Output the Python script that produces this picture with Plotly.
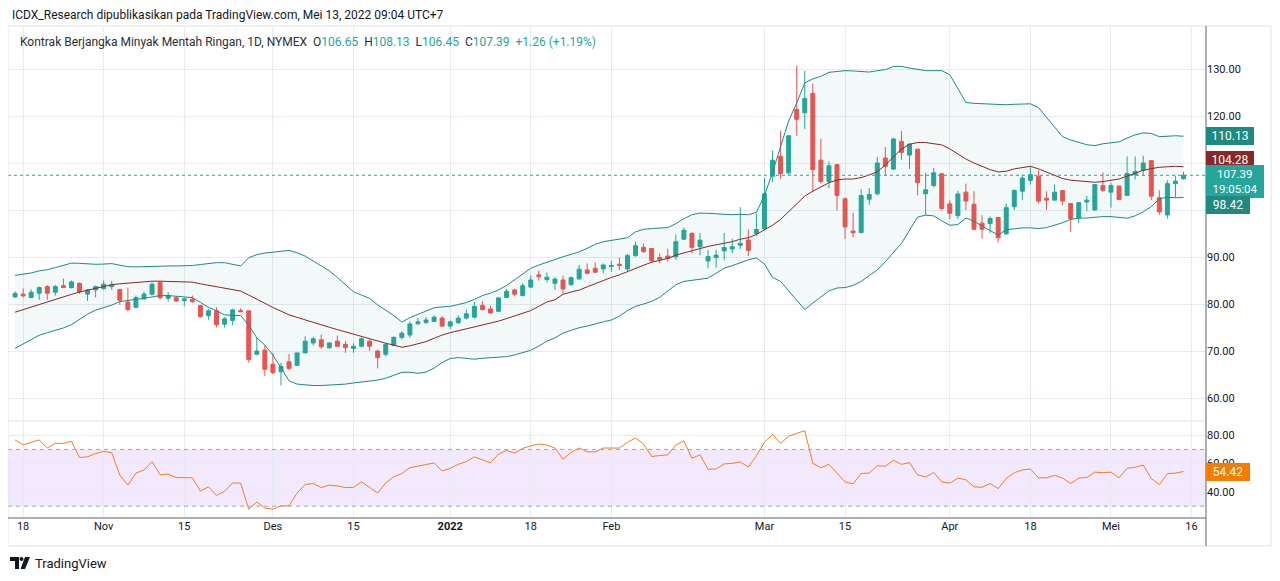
import pandas as pd
import plotly.graph_objects as go

# ---- data (CL1!, daily, 15 Oct 2021 .. 13 May 2022) ----
holidays = ["2021-11-25", "2021-12-24", "2022-01-17", "2022-02-21", "2022-04-15"]
dates = [d for d in pd.bdate_range("2021-10-15", "2022-05-13").strftime("%Y-%m-%d")
         if d not in holidays]

opens = [
    81.5, 82.1, 81.4, 82.3, 83.7, 82.5, 83.9, 83.5, 84.4, 82.1,
    83.0, 83.3, 83.7, 83.1, 80.4, 79.3, 81.1, 82.1, 84.6, 81.2,
    81.35, 80.7, 81.0, 79.7, 77.5, 78.55, 75.7, 76.5, 78.6, 78.55,
    69.3, 70.2, 67.2, 65.6, 67.7, 66.95, 69.6, 71.7, 72.4, 70.7,
    72.1, 71.4, 70.55, 71.0, 72.1, 70.0, 69.3, 71.2, 72.9, 73.4,
    75.8, 76.05, 76.3, 77.0, 75.3, 76.0, 77.0, 77.2, 79.7, 78.95,
    78.45, 81.4, 83.0, 81.8, 83.6, 86.2, 85.2, 84.4, 85.1, 84.1,
    85.35, 87.25, 87.6, 87.45, 88.0, 88.45, 87.45, 90.3, 92.05, 91.8,
    89.9, 90.2, 90.05, 93.8, 95.0, 92.2, 89.15, 89.9, 91.3, 91.7,
    92.5, 93.6, 95.0, 96.05, 107.2, 111.4, 107.9, 121.4, 120.7, 124.8,
    110.6, 106.05, 109.65, 102.4, 95.5, 95.2, 102.3, 103.45, 111.05, 108.7,
    114.6, 111.7, 112.95, 103.45, 105.2, 107.7, 101.3, 98.8, 103.8, 101.2,
    97.2, 97.1, 98.4, 94.9, 100.7, 104.0, 106.3, 107.2, 102.5, 102.1,
    104.15, 101.4, 98.4, 101.7, 100.0, 105.2, 103.8, 105.1, 103.1, 107.5,
    108.45, 110.5, 102.6, 98.95, 105.6, 106.65,
]
highs = [
    82.7, 83.3, 83.1, 83.7, 84.0, 84.0, 85.4, 85.0, 84.6, 83.2,
    83.9, 85.0, 84.9, 83.1, 83.5, 81.8, 82.6, 84.6, 84.9, 82.5,
    81.6, 81.4, 81.8, 79.8, 79.0, 79.3, 77.2, 79.0, 79.1, 78.55,
    72.8, 71.2, 69.6, 67.5, 69.4, 69.6, 73.1, 73.0, 73.5, 71.9,
    73.3, 72.1, 71.6, 72.9, 72.4, 70.3, 71.65, 73.1, 74.2, 76.3,
    77.0, 77.2, 77.6, 77.4, 76.5, 77.6, 78.8, 80.4, 80.6, 79.65,
    81.5, 83.2, 83.2, 84.4, 86.1, 87.1, 86.7, 85.7, 86.05, 85.85,
    88.3, 88.65, 88.8, 88.65, 89.2, 89.85, 90.65, 93.25, 92.9, 91.8,
    90.8, 91.8, 94.8, 96.2, 95.35, 95.1, 91.5, 91.5, 95.1, 93.9,
    100.6, 95.85, 99.2, 106.8, 112.6, 116.8, 115.9, 130.7, 129.6, 126.9,
    115.1, 110.35, 109.8, 102.6, 99.4, 104.4, 104.65, 111.3, 113.4, 115.4,
    116.8, 114.2, 112.95, 107.9, 108.95, 107.9, 102.05, 104.1, 105.6, 104.0,
    98.9, 98.6, 98.4, 101.4, 104.4, 107.5, 109.15, 108.45, 104.0, 105.4,
    104.15, 101.4, 101.7, 103.0, 105.5, 108.0, 105.8, 105.1, 111.4, 111.4,
    111.55, 110.5, 104.2, 106.3, 107.3, 108.13,
]
lows = [
    81.3, 81.35, 81.2, 80.9, 80.9, 81.8, 83.5, 83.3, 82.2, 80.65,
    81.4, 83.0, 83.0, 79.8, 78.4, 79.1, 80.9, 81.8, 80.9, 80.5,
    80.5, 79.5, 80.3, 77.1, 76.65, 75.0, 75.0, 75.45, 78.3, 67.5,
    69.1, 64.7, 65.05, 62.7, 65.9, 66.8, 69.6, 71.2, 70.5, 70.5,
    70.9, 69.6, 69.6, 70.95, 70.0, 66.3, 68.9, 71.0, 72.4, 72.8,
    75.6, 75.8, 76.2, 75.1, 74.7, 75.8, 76.7, 76.9, 78.65, 77.95,
    78.3, 81.3, 81.6, 81.6, 83.4, 85.0, 84.6, 83.0, 82.2, 83.95,
    85.15, 86.35, 86.55, 86.55, 86.8, 87.25, 87.0, 90.05, 90.9, 88.9,
    88.7, 89.0, 89.4, 93.6, 90.8, 90.4, 87.6, 87.75, 89.35, 90.8,
    91.7, 90.2, 94.5, 95.7, 105.9, 106.6, 107.5, 115.8, 117.2, 103.9,
    105.6, 104.65, 99.9, 93.8, 94.2, 95.1, 101.1, 103.1, 107.3, 108.5,
    110.7, 108.7, 103.1, 98.9, 104.85, 99.9, 98.05, 98.1, 100.0, 95.8,
    93.9, 95.1, 93.1, 94.9, 100.0, 102.1, 105.4, 101.4, 100.0, 102.1,
    101.0, 95.35, 97.2, 99.8, 99.8, 103.8, 100.5, 102.25, 103.1, 106.5,
    107.3, 102.1, 98.95, 98.2, 102.6, 106.45,
]
closes = [
    82.25, 81.75, 82.5, 83.5, 82.3, 83.7, 83.5, 84.7, 82.6, 83.0,
    83.7, 84.2, 84.1, 80.8, 78.8, 81.35, 82.1, 84.2, 81.35, 81.8,
    80.65, 81.1, 80.5, 77.35, 78.55, 75.6, 76.85, 78.75, 78.35, 68.2,
    70.0, 66.1, 65.4, 66.7, 66.3, 69.6, 72.1, 72.6, 70.9, 71.7,
    71.0, 70.7, 71.0, 72.6, 71.0, 68.6, 71.4, 72.9, 73.8, 75.75,
    76.2, 76.6, 77.2, 75.3, 76.2, 77.0, 77.9, 79.5, 78.8, 78.1,
    81.3, 82.7, 82.1, 83.9, 85.1, 85.8, 85.7, 85.3, 83.2, 85.6,
    87.4, 86.55, 86.75, 88.3, 88.2, 88.2, 90.3, 92.4, 91.15, 89.2,
    89.5, 89.7, 93.25, 95.7, 92.05, 93.6, 90.1, 90.4, 92.0, 92.2,
    92.9, 91.4, 95.85, 103.45, 110.6, 107.7, 115.8, 119.3, 123.7, 108.6,
    106.05, 109.4, 103.1, 96.4, 95.15, 103.1, 103.3, 110.0, 109.3, 115.1,
    112.25, 114.0, 105.8, 104.3, 107.9, 100.3, 99.3, 103.4, 101.9, 95.9,
    95.9, 98.2, 94.1, 100.5, 104.15, 106.8, 107.5, 101.9, 102.1, 103.8,
    101.9, 98.2, 101.55, 102.1, 105.4, 104.2, 105.2, 102.25, 107.75, 108.2,
    110.0, 102.95, 99.6, 105.6, 106.13, 107.39,
]

# Bollinger Bands (20, 2) - drawn on their own scale in the original
bb_upper = [
    83.49, 83.72, 83.94, 84.35, 84.57, 84.98, 85.43, 85.83, 85.79, 85.65,
    85.61, 85.65, 85.74, 85.43, 85.16, 85.11, 85.16, 85.29, 85.2, 85.29,
    85.29, 85.29, 85.38, 85.56, 85.74, 85.92, 85.92, 85.61, 85.29, 86.87,
    87.45, 87.77, 87.95, 88.08, 88.26, 87.81, 87.18, 86.24, 85.29, 84.35,
    83.08, 81.69, 80.34, 79.71, 79.08, 77.82, 76.88, 75.8, 74.54, 75.39,
    76.02, 76.65, 77.28, 77.46, 77.55, 77.91, 78.27, 78.9, 79.62, 80.07,
    80.7, 81.56, 82.64, 83.72, 84.84, 85.47, 86.01, 86.64, 87.05, 87.5,
    87.99, 88.67, 89.43, 89.93, 90.15, 90.38, 90.69, 91.82, 92.31, 92.45,
    92.58, 92.63, 93.39, 94.34, 95.1, 95.42, 95.37, 95.24, 95.19, 95.1,
    95.19, 95.1, 95.55, 98.79, 103.2, 108.33, 113.06, 116.52, 120.35, 121.11,
    121.61, 122.37, 122.55, 122.69, 122.64, 122.55, 122.42, 122.69, 122.87, 123.5,
    123.5, 123.18, 122.87, 122.69, 122.69, 122.69, 121.92, 119.4, 116.61, 116.43,
    116.34, 116.25, 116.16, 116.16, 116.25, 116.34, 116.34, 115.62, 113.82, 111.84,
    110.04, 109.41, 108.96, 108.51, 108.33, 108.69, 108.87, 109.05, 109.77, 110.4,
    110.76, 110.67, 110.04, 110.13, 110.22, 110.13,
]
bb_basis = [
    76.43, 76.92, 77.46, 77.96, 78.45, 78.99, 79.4, 79.85, 80.3, 80.66,
    81.06, 81.38, 81.69, 81.87, 82.01, 82.14, 82.28, 82.37, 82.37, 82.32,
    82.32, 82.28, 82.19, 81.87, 81.6, 81.24, 80.97, 80.66, 80.48, 79.71,
    78.99, 78.14, 77.33, 76.56, 75.93, 75.44, 74.94, 74.4, 73.95, 73.55,
    73.1, 72.65, 72.15, 71.7, 71.25, 70.89, 70.49, 70.13, 69.72, 69.99,
    70.4, 70.8, 71.43, 72.06, 72.51, 72.87, 73.19, 73.59, 73.95, 74.22,
    74.72, 75.21, 75.75, 76.29, 76.74, 77.55, 78.41, 78.81, 79.85, 80.3,
    80.66, 81.29, 81.92, 82.46, 83.09, 83.58, 84.21, 84.93, 85.43, 86.01,
    86.37, 86.73, 87.36, 87.81, 88.22, 88.71, 89.03, 89.34, 89.66, 89.93,
    90.42, 90.69, 91.32, 92.18, 93.08, 94.2, 95.64, 97.22, 98.66, 99.6,
    100.37, 101.22, 101.76, 101.94, 101.94, 102.21, 102.71, 103.34, 104.64, 106.08,
    107.66, 108.6, 108.92, 108.92, 108.74, 108.47, 107.7, 106.76, 105.77, 105.0,
    104.37, 103.74, 103.29, 103.43, 103.88, 104.06, 104.37, 103.88, 103.25, 102.66,
    102.03, 101.72, 101.54, 101.45, 101.31, 101.45, 101.72, 101.94, 102.48, 103.11,
    103.61, 103.92, 104.19, 104.28, 104.37, 104.28,
]
bb_lower = [
    69.5, 70.35, 71.25, 72.02, 72.51, 72.96, 73.41, 74.04, 75.03, 76.07,
    76.83, 77.33, 77.78, 78.45, 78.72, 78.9, 79.08, 79.4, 79.62, 79.62,
    79.53, 79.4, 79.22, 78.32, 77.37, 76.7, 75.93, 75.8, 75.8, 73.91,
    71.52, 70.13, 68.19, 65.81, 63.29, 62.66, 62.48, 62.39, 62.39, 62.48,
    62.52, 62.66, 62.88, 63.02, 63.15, 63.42, 63.78, 64.41, 64.91, 64.95,
    64.73, 64.95, 65.72, 66.8, 67.56, 67.74, 67.61, 67.43, 67.61, 67.74,
    67.79, 67.92, 68.24, 68.64, 69.14, 69.95, 70.89, 71.52, 72.42, 72.96,
    73.46, 73.77, 74.22, 74.58, 74.94, 75.66, 76.74, 77.55, 78.0, 78.5,
    79.26, 80.43, 81.69, 82.32, 82.5, 82.64, 82.95, 83.9, 84.84, 85.34,
    85.92, 86.46, 86.82, 85.65, 83.09, 82.32, 80.52, 78.72, 76.92, 78.18,
    79.44, 80.52, 81.06, 81.15, 81.56, 82.32, 83.45, 84.53, 86.1, 87.9,
    89.61, 92.13, 94.65, 95.01, 94.88, 93.93, 93.08, 93.21, 94.47, 93.84,
    92.94, 91.99, 91.19, 92.22, 92.45, 92.58, 92.58, 92.45, 92.63, 93.08,
    93.57, 94.2, 94.43, 94.47, 94.61, 94.74, 94.74, 94.61, 94.43, 94.88,
    95.64, 96.63, 98.16, 98.43, 98.34, 98.42,
]

# RSI (14)
rsi = [
    76.7, 73.3, 75.0, 76.7, 71.0, 74.3, 74.3, 75.7, 64.3, 64.8,
    67.1, 68.6, 67.6, 51.9, 44.8, 53.3, 55.5, 61.4, 52.1, 52.6,
    50.2, 50.2, 50.0, 40.7, 43.6, 37.6, 40.5, 46.4, 46.2, 27.9,
    32.9, 28.6, 27.9, 30.2, 30.2, 39.3, 45.2, 46.0, 43.1, 44.8,
    44.3, 43.1, 43.3, 47.1, 43.3, 39.3, 46.4, 50.7, 52.9, 57.2,
    58.2, 59.5, 60.5, 54.8, 56.7, 59.5, 61.4, 64.8, 62.9, 60.5,
    66.7, 69.3, 67.4, 70.7, 72.6, 73.8, 73.1, 71.0, 63.1, 67.9,
    71.0, 68.3, 68.3, 71.0, 71.0, 71.0, 75.0, 78.1, 73.8, 65.0,
    65.7, 66.2, 73.1, 76.0, 63.8, 66.2, 56.0, 56.2, 59.8, 60.2,
    61.2, 57.6, 65.5, 75.0, 80.7, 74.3, 79.3, 81.4, 83.2, 60.2,
    57.1, 59.5, 53.6, 47.1, 45.7, 53.1, 53.3, 58.6, 58.1, 62.4,
    59.5, 60.7, 52.1, 50.5, 53.8, 47.1, 46.2, 49.8, 48.6, 43.6,
    43.3, 46.0, 42.4, 49.5, 53.6, 55.5, 56.2, 50.0, 50.0, 51.7,
    49.8, 46.0, 49.8, 50.2, 54.0, 53.6, 54.0, 50.0, 56.7, 57.4,
    59.0, 49.5, 45.2, 52.9, 53.3, 54.42,
]

tick_dates = ["2021-10-18", "2021-11-01", "2021-11-15", "2021-12-01", "2021-12-15",
              "2022-01-03", "2022-01-18", "2022-02-01", "2022-03-01", "2022-03-15",
              "2022-04-01", "2022-04-18", "2022-05-02", "2022-05-16"]
tick_text = ["18", "Nov", "15", "Des", "15", "<b>2022</b>", "18", "Feb", "Mar", "15",
             "Apr", "18", "Mei", "16"]

# price scale ticks (110.00 sits fully behind the band labels in the original)
price_ticks = [60, 70, 80, 90, 100, 110, 120, 130]
price_tick_text = ["60.00", "70.00", "80.00", "90.00", "100.00", "", "120.00", "130.00"]
rsi_ticks = [40, 60, 80]

# ---- styling ----
UP, DOWN = "#26a69a", "#ef5350"
BAND, BASIS = "#1f8a82", "#882828"
RSI_C = "#f57c1f"
GRID = "#e6ebf1"
TXT = "#131722"
AXIS = "#5d606b"
FONT = "Roboto"

# the page body has an 8px margin, so the figure is sized to sit inside it
OFF = 8
W, H = 1264, 565
ML, MT = 0, 18
PW, PH = 1198, 492
MR, MB = W - ML - PW, H - MT - PH


def px(x):  # x in screenshot pixels -> paper
    return (x - OFF - ML) / PW


def py(y):  # y in screenshot pixels -> paper
    return (OFF + MT + PH - y) / PH


rb = [dict(bounds=["sat", "mon"]), dict(values=holidays)]
x_range = ["2021-10-14 03:00", "2022-05-17 19:00"]

fig = go.Figure()
fig.add_trace(go.Scatter(x=dates, y=bb_lower, yaxis="y3", mode="lines",
                         line=dict(color=BAND, width=1), hoverinfo="skip"))
fig.add_trace(go.Scatter(x=dates, y=bb_upper, yaxis="y3", mode="lines", fill="tonexty",
                         fillcolor="rgba(38,150,140,0.06)",
                         line=dict(color=BAND, width=1), hoverinfo="skip"))
fig.add_trace(go.Scatter(x=dates, y=bb_basis, yaxis="y3", mode="lines",
                         line=dict(color=BASIS, width=1), hoverinfo="skip"))
fig.add_trace(go.Candlestick(
    x=dates, open=opens, high=highs, low=lows, close=closes,
    increasing=dict(line=dict(color=UP, width=1), fillcolor=UP),
    decreasing=dict(line=dict(color=DOWN, width=1), fillcolor=DOWN),
    whiskerwidth=0))
fig.add_trace(go.Scatter(x=dates, y=rsi, xaxis="x2", yaxis="y2", mode="lines",
                         line=dict(color=RSI_C, width=1)))

axis_font = dict(family=FONT, size=11, color=TXT)
fig.update_layout(
    width=W, height=H, margin=dict(l=ML, r=MR, t=MT, b=MB),
    paper_bgcolor="white", plot_bgcolor="white", showlegend=False,
    font=dict(family=FONT, color=TXT),
    xaxis=dict(domain=[0, 1], anchor="y", type="date", range=x_range, rangebreaks=rb,
               tickvals=tick_dates, showticklabels=False, showgrid=True, gridcolor=GRID,
               zeroline=False, showline=False, ticks="", rangeslider=dict(visible=False)),
    xaxis2=dict(domain=[0, 1], anchor="y2", matches="x", type="date", range=x_range,
                rangebreaks=rb, tickvals=tick_dates, ticktext=tick_text, tickfont=axis_font,
                showgrid=True, gridcolor=GRID, zeroline=False, showline=False, ticks=""),
    yaxis=dict(domain=[0.199, 1], anchor="x", side="right", range=[55.3, 139.15],
               tickvals=price_ticks, ticktext=price_tick_text, tickfont=axis_font,
               showgrid=True, gridcolor=GRID, zeroline=False, showline=False, ticks=""),
    yaxis3=dict(overlaying="y", range=[55.77, 131.24], visible=False),
    yaxis2=dict(domain=[0, 0.195], anchor="x2", side="right", range=[21.66, 89.3],
                tickvals=rsi_ticks, tickformat=".2f", tickfont=axis_font, showgrid=True,
                gridcolor=GRID, zeroline=False, showline=False, ticks=""),
)

shapes = [
    # RSI band 30..70
    dict(type="rect", xref="paper", x0=0, x1=1, yref="y2", y0=30, y1=70,
         fillcolor="rgba(140,60,230,0.11)", line=dict(width=0), layer="below"),
    dict(type="line", xref="paper", x0=0, x1=1, yref="y2", y0=70, y1=70,
         line=dict(color="#a3a6af", width=1, dash="4px,4px")),
    dict(type="line", xref="paper", x0=0, x1=1, yref="y2", y0=30, y1=30,
         line=dict(color="#a3a6af", width=1, dash="4px,4px")),
    # last price line
    dict(type="line", xref="paper", x0=0, x1=1, yref="y", y0=107.39, y1=107.39,
         line=dict(color=UP, width=1, dash="dot")),
    # frame, pane separator and axis lines
    dict(type="rect", xref="paper", yref="paper", x0=px(8), x1=px(1271), y0=py(546), y1=py(26),
         line=dict(color="#e0e3eb", width=1)),
    dict(type="line", xref="paper", yref="paper", x0=0, x1=1, y0=py(421), y1=py(421),
         line=dict(color="#e0e3eb", width=1)),
    dict(type="line", xref="paper", yref="paper", x0=1, x1=1, y0=py(546), y1=py(26),
         line=dict(color=AXIS, width=1)),
    dict(type="line", xref="paper", yref="paper", x0=0, x1=1, y0=0, y1=0,
         line=dict(color=AXIS, width=1)),
    # TradingView logo
    dict(type="path", xref="paper", yref="paper",
         path="M {a},{b} L {c},{b} L {c},{d} L {e},{d} L {e},{f} L {a},{f} Z".format(
             a=px(10), b=py(557), c=px(19), d=py(569), e=px(15), f=py(561)),
         fillcolor=TXT, line=dict(width=0)),
    dict(type="circle", xref="paper", yref="paper", x0=px(19.5), x1=px(23.5),
         y0=py(561), y1=py(557), fillcolor=TXT, line=dict(width=0)),
    dict(type="path", xref="paper", yref="paper",
         path="M {a},{b} L {c},{b} L {d},{e} L {f},{e} Z".format(
             a=px(25), b=py(557), c=px(30), d=px(25), e=py(569), f=px(20.5)),
         fillcolor=TXT, line=dict(width=0)),
]
fig.update_layout(shapes=shapes)

legend = ('Kontrak Berjangka Minyak Mentah Ringan, 1D, NYMEX&nbsp;&nbsp;'
          'O<span style="color:#26a69a">106.65</span>&nbsp;&nbsp;'
          'H<span style="color:#26a69a">108.13</span>&nbsp;&nbsp;'
          'L<span style="color:#26a69a">106.45</span>&nbsp;&nbsp;'
          'C<span style="color:#26a69a">107.39</span>&nbsp;&nbsp;'
          '<span style="color:#26a69a">+1.26 (+1.19%)</span>')

label = dict(xref="paper", x=1, xanchor="left", yanchor="middle", showarrow=False,
             borderpad=2, borderwidth=0, font=dict(family=FONT, size=12, color="white"))
annotations = [
    dict(xref="paper", yref="paper", x=px(10), y=py(15), xanchor="left", yanchor="middle",
         showarrow=False, text="ICDX_Research dipublikasikan pada TradingView.com, Mei 13, 2022 09:04 UTC+7",
         font=dict(family=FONT, size=12, color=TXT)),
    dict(xref="paper", yref="paper", x=px(18), y=py(42), xanchor="left", yanchor="middle",
         showarrow=False, text=legend, font=dict(family=FONT, size=12, color="#2a2e39")),
    dict(xref="paper", yref="paper", x=px(33), y=py(563), xanchor="left", yanchor="middle",
         showarrow=False, text="TradingView", font=dict(family=FONT, size=13, color=TXT)),
    dict(label, yref="paper", y=py(136), text="110.13", bgcolor=BAND, width=44),
    dict(label, yref="paper", y=py(159.5), text="104.28", bgcolor=BASIS, width=44),
    dict(label, yref="paper", y=py(182), text="107.39<br>19:05:04", bgcolor=UP, width=54,
         font=dict(family=FONT, size=11.5, color="white")),
    dict(label, yref="paper", y=py(205), text="98.42", bgcolor=BAND, width=40),
    dict(label, yref="y2", y=54.42, text="54.42", bgcolor="#f57c00", width=40),
]
fig.update_layout(annotations=annotations)

fig.write_html("out.html")
